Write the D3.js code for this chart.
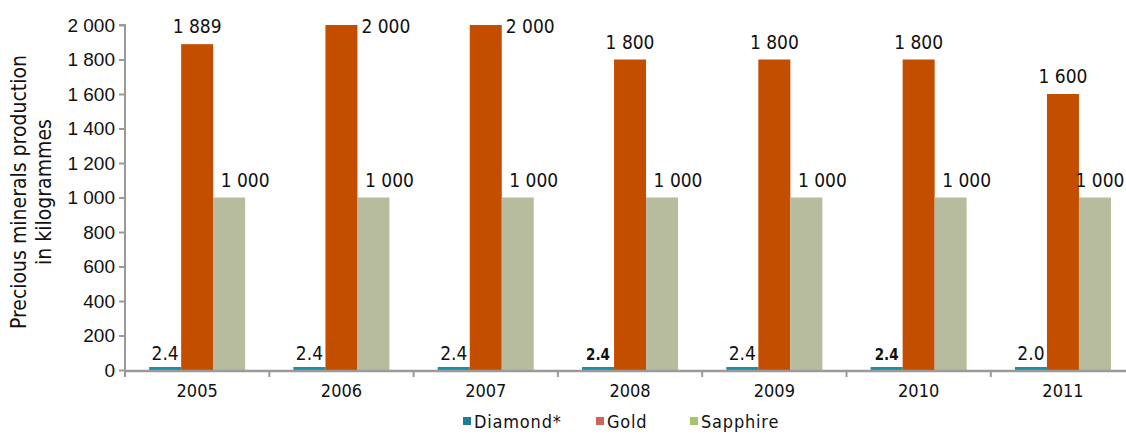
<!DOCTYPE html>
<html>
<head>
<meta charset="utf-8">
<script src="https://cdn.jsdelivr.net/npm/d3@7"></script>
<style>
  body { margin: 0; background: #fff; }
  svg { font-family: "Liberation Sans Narrow", "DejaVu Sans Condensed", sans-serif; }
</style>
</head>
<body>
<svg id="chart"></svg>
<script>
let years = ["2005", "2006", "2007", "2008", "2009", "2010", "2011"];
let seriesNames = ["Diamond*", "Gold", "Sapphire"];
let diamond = [2.4, 2.4, 2.4, 2.4, 2.4, 2.4, 2.0];
let gold = [1889, 2000, 2000, 1800, 1800, 1800, 1600];
let sapphire = [1000, 1000, 1000, 1000, 1000, 1000, 1000];
let diamondLabels = ["2.4", "2.4", "2.4", "2.4", "2.4", "2.4", "2.0"];
let boldLabel = [false, false, false, true, false, true, false];
let yTicks = [0, 200, 400, 600, 800, 1000, 1200, 1400, 1600, 1800, 2000];

let barColors = ["#1b8fa2", "#c44e00", "#b8bc9e"];
let legendColors = ["#1a7f95", "#d0625a", "#a6c46a"];

let w = 1126;
let h = 434;
let mLeft = 125;
let mTop = 25;
let mBottom = 370;
let bandW = 144.3;

let svg = d3.select("#chart").attr("width", w).attr("height", h);

let fmt = (v) => d3.format(",")(v).replace(/,/g, " ");

let xScale = d3.scaleBand()
               .domain(years)
               .range([mLeft, mLeft + bandW * years.length])
               .paddingInner(0)
               .paddingOuter(0);

let yScale = d3.scaleLinear()
               .domain([0, 2000])
               .range([mBottom, mTop]);

let bw = 32;
let groupOffset = (bandW - 3 * bw) / 2;

// axes
let yAxis = d3.axisLeft(yScale)
              .tickValues(yTicks)
              .tickFormat(fmt)
              .tickSize(6)
              .tickPadding(4);

let yg = svg.append("g")
   .attr("transform", `translate(${mLeft}, 0)`)
   .call(yAxis);
yg.select(".domain").attr("stroke", "#9a9a9a").attr("stroke-width", 2).attr("d", `M-6,${mTop}H0V${mBottom}`);
yg.selectAll(".tick line").attr("stroke", "#9a9a9a").attr("stroke-width", 2);
yg.selectAll(".tick text").attr("font-size", 19).attr("fill", "#111").attr("font-family", "inherit");

// bars
let series = [diamond, gold, sapphire];
series.forEach((vals, s) => {
    svg.selectAll(".bar" + s)
       .data(vals)
       .enter()
       .append("rect")
       .attr("x", (d, i) => xScale(years[i]) + groupOffset + s * bw)
       .attr("width", bw)
       .attr("y", (d) => Math.min(yScale(d), mBottom - 3))
       .attr("height", (d) => Math.max(mBottom - yScale(d), 3))
       .attr("fill", barColors[s]);
});

// x axis drawn over bars
let xg = svg.append("g");
xg.append("line")
  .attr("x1", mLeft - 1).attr("x2", w)
  .attr("y1", mBottom + 1).attr("y2", mBottom + 1)
  .attr("stroke", "#9a9a9a").attr("stroke-width", 2.5);
xg.selectAll(".xt")
  .data(years)
  .enter()
  .append("line")
  .attr("x1", (d) => xScale(d)).attr("x2", (d) => xScale(d))
  .attr("y1", mBottom + 1).attr("y2", mBottom + 7)
  .attr("stroke", "#9a9a9a").attr("stroke-width", 2);
xg.selectAll(".xl")
  .data(years)
  .enter()
  .append("text")
  .attr("x", (d) => xScale(d) + bandW / 2)
  .attr("y", mBottom + 27)
  .attr("text-anchor", "middle")
  .attr("font-size", 18)
  .attr("fill", "#111")
  .text((d) => d);

// value labels
svg.selectAll(".dl")
   .data(diamond)
   .enter()
   .append("text")
   .attr("x", (d, i) => xScale(years[i]) + groupOffset + bw / 2)
   .attr("y", (d) => mBottom - 10)
   .attr("text-anchor", "middle")
   .attr("font-size", (d, i) => boldLabel[i] ? 15 : 19)
   .attr("font-weight", (d, i) => boldLabel[i] ? "bold" : "normal")
   .attr("fill", "#111")
   .text((d, i) => diamondLabels[i]);

// gold labels sit above the bar, or beside its top when there is no room
let goldFits = (d) => yScale(d) - 30 > 0;
svg.selectAll(".gl")
   .data(gold)
   .enter()
   .append("text")
   .attr("x", (d, i) => goldFits(d)
        ? xScale(years[i]) + groupOffset + bw * 1.5
        : xScale(years[i]) + groupOffset + bw * 2 + 4)
   .attr("y", (d) => goldFits(d) ? yScale(d) - 11 : yScale(d) + 8)
   .attr("text-anchor", (d) => goldFits(d) ? "middle" : "start")
   .attr("font-size", 19)
   .attr("fill", "#111")
   .text((d) => fmt(d));

// sapphire labels, kept inside the page on the right
svg.selectAll(".sl")
   .data(sapphire)
   .enter()
   .append("text")
   .attr("x", (d, i) => Math.min(xScale(years[i]) + groupOffset + bw * 3, w - 26))
   .attr("y", (d) => yScale(d) - 11)
   .attr("text-anchor", "middle")
   .attr("font-size", 19)
   .attr("fill", "#111")
   .text((d) => fmt(d));

// y title
let yt = svg.append("text")
   .attr("transform", `translate(26, 192) rotate(-90)`)
   .attr("text-anchor", "middle")
   .attr("font-size", 21)
   .attr("fill", "#111");
yt.append("tspan").attr("x", 0).attr("dy", 0).text("Precious minerals production");
yt.append("tspan").attr("x", 0).attr("dy", 25).text("in kilogrammes");

// legend
let legendX = [463, 596, 690];
let lg = svg.append("g");
seriesNames.forEach((name, i) => {
    lg.append("rect")
      .attr("x", legendX[i]).attr("y", 417)
      .attr("width", 8).attr("height", 8)
      .attr("fill", legendColors[i]);
    lg.append("text")
      .attr("x", legendX[i] + 11).attr("y", 428)
      .attr("font-size", 18)
      .attr("letter-spacing", 0.8)
      .attr("fill", "#111")
      .text(name);
});
</script>
</body>
</html>
